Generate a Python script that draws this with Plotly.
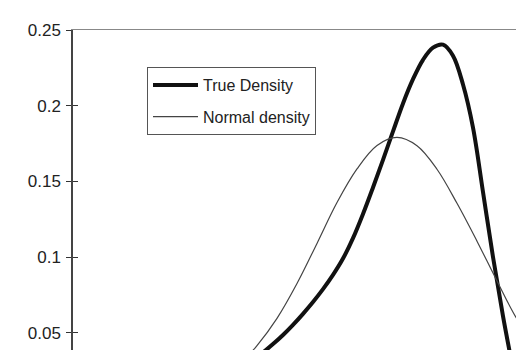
import plotly.graph_objects as go

# Normal density curve (x in arbitrary units)
normal_x = [1.64, 1.84, 2.04, 2.24, 2.44, 2.64, 2.84, 3.04, 3.24, 3.44, 3.64, 3.84, 4.04, 4.24, 4.44, 4.64]
normal_y = [0.0270, 0.0415, 0.0595, 0.0825, 0.1090, 0.1360, 0.1582, 0.1737, 0.1790, 0.1735, 0.1580, 0.1355, 0.1105, 0.0842, 0.0590, 0.0400]

# True density curve
true_x = [1.8, 1.9, 2.0, 2.1, 2.2, 2.3, 2.4, 2.5, 2.6, 2.7, 2.8, 2.9, 3.0, 3.1, 3.2, 3.3, 3.4, 3.5, 3.6, 3.7, 3.8, 3.9, 4.0, 4.1, 4.2, 4.3, 4.4]
true_y = [0.0320, 0.0370, 0.0425, 0.0485, 0.0552, 0.0625, 0.0703, 0.0788, 0.0882, 0.0990, 0.1125, 0.1285, 0.1460, 0.1642, 0.1830, 0.2015, 0.2175, 0.2303, 0.2383, 0.2403, 0.2330, 0.2140, 0.1855, 0.1430, 0.1000, 0.0610, 0.0260]

y_ticks = [0.05, 0.1, 0.15, 0.2, 0.25]
y_tick_text = ["0.05", "0.1", "0.15", "0.2", "0.25"]
y_range = [0.0386, 0.25]
x_range = [0, 4.43]

fig = go.Figure()
fig.add_trace(go.Scatter(x=true_x, y=true_y, mode="lines", name="True Density",
                         line=dict(color="#111111", width=4, shape="spline", smoothing=1.0),
                         legendgroup="a"))
fig.add_trace(go.Scatter(x=normal_x, y=normal_y, mode="lines", name="Normal density",
                         line=dict(color="#444444", width=1.2, shape="spline", smoothing=1.0),
                         legendgroup="b"))
fig.add_trace(go.Scatter(x=[None], y=[None], yaxis="y2", showlegend=False, hoverinfo="skip"))

fig.update_layout(
    width=516, height=350,
    margin=dict(l=73, r=0, t=30, b=0),
    paper_bgcolor="white", plot_bgcolor="white",
    font=dict(family="Arial, Liberation Sans, sans-serif", color="#222222"),
    showlegend=True,
    legend=dict(x=(147 - 73) / 443, y=1 - (67 - 30) / 320, xanchor="left", yanchor="top",
                bordercolor="#555555", borderwidth=1, bgcolor="white",
                font=dict(size=16, family="Arial, Liberation Sans, sans-serif", color="#222222"),
                itemwidth=45, traceorder="grouped", tracegroupgap=8),
    xaxis=dict(range=x_range, side="top", showline=True, linecolor="#888888", linewidth=1,
               showticklabels=False, ticks="", showgrid=False, zeroline=False),
    yaxis=dict(range=y_range, tickvals=y_ticks, ticktext=y_tick_text, ticks="outside",
               ticklen=5, tickwidth=1.3, tickcolor="#333333", showline=True, linecolor="#444444",
               linewidth=1.5, showgrid=False, zeroline=False, ticklabelstandoff=2,
               tickfont=dict(size=17, family="Arial, Liberation Sans, sans-serif", color="#222222")),
    yaxis2=dict(range=y_range, overlaying="y", side="left", anchor="x", tickvals=y_ticks,
                ticks="inside", ticklen=5, tickwidth=1.3, tickcolor="#333333",
                showticklabels=False, showline=False, showgrid=False, zeroline=False),
)

fig.write_html("out.html")
